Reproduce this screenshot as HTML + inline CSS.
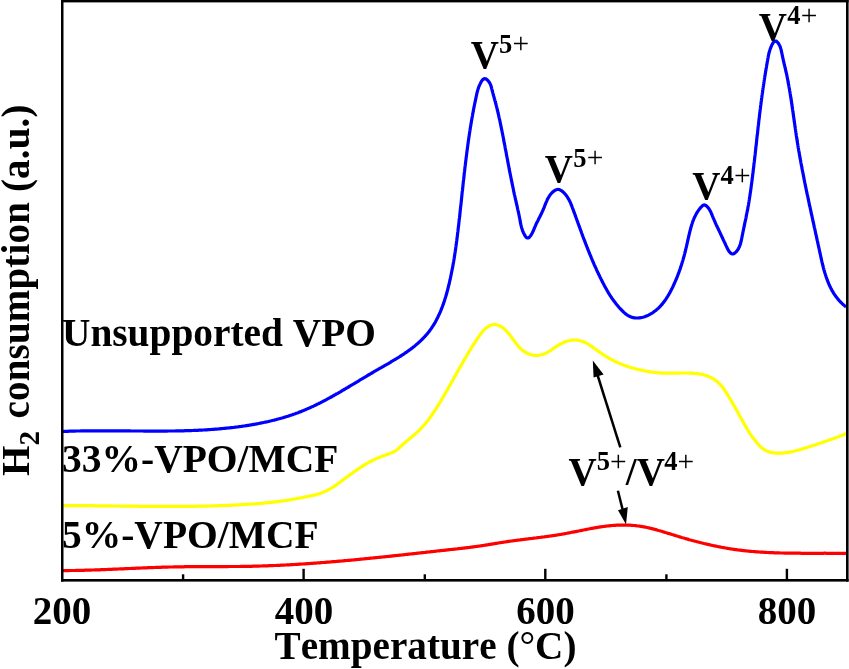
<!DOCTYPE html>
<html><head><meta charset="utf-8"><title>H2-TPR</title>
<style>
html,body{margin:0;padding:0;background:#fff;overflow:hidden}
svg{display:block}
text{font-family:"Liberation Serif",serif;font-weight:bold;fill:#000;font-size:39px;font-kerning:none}
.b{font-size:29px}
.p{font-size:29.5px;font-weight:normal}
.s{font-size:26.5px}
</style></head><body>
<svg width="849" height="669" viewBox="0 0 849 669">
<rect width="849" height="669" fill="#fff"/>
<!-- curves -->
<g fill="none" stroke-width="3.2" stroke-linejoin="round" stroke-linecap="butt">
<path stroke="#0000ff" d="M62.0,431.5 L63.0,431.5 L64.0,431.4 L65.0,431.4 L66.0,431.4 L67.0,431.3 L68.0,431.3 L69.0,431.2 L70.0,431.2 L71.0,431.2 L72.0,431.2 L73.0,431.1 L74.0,431.1 L75.0,431.1 L76.0,431.0 L77.0,431.0 L78.0,431.0 L79.0,431.0 L80.0,431.0 L81.0,430.9 L82.0,430.9 L83.0,430.9 L84.0,430.9 L85.0,430.9 L86.0,430.9 L87.0,430.9 L88.0,430.8 L89.0,430.8 L90.0,430.8 L91.0,430.8 L92.0,430.8 L93.0,430.8 L94.0,430.8 L95.0,430.8 L96.0,430.8 L97.0,430.8 L98.0,430.8 L99.0,430.8 L100.0,430.8 L101.0,430.8 L102.0,430.8 L103.0,430.8 L104.0,430.8 L105.0,430.8 L106.0,430.8 L107.0,430.8 L108.0,430.8 L109.0,430.8 L110.0,430.8 L111.0,430.8 L112.0,430.8 L113.0,430.8 L114.0,430.8 L115.0,430.8 L116.0,430.8 L117.0,430.8 L118.0,430.8 L119.0,430.9 L120.0,430.9 L121.0,430.9 L122.0,430.9 L123.0,430.9 L124.0,430.9 L125.0,430.9 L126.0,430.9 L127.0,430.9 L128.0,430.9 L129.0,430.9 L130.0,430.9 L131.0,431.0 L132.0,431.0 L133.0,431.0 L134.0,431.0 L135.0,431.0 L136.0,431.0 L137.0,431.0 L138.0,431.0 L139.0,431.0 L140.0,431.0 L141.0,431.0 L142.0,431.0 L143.0,431.0 L144.0,431.1 L145.0,431.1 L146.0,431.1 L147.0,431.1 L148.0,431.1 L149.0,431.1 L150.0,431.1 L151.0,431.1 L152.0,431.1 L153.0,431.1 L154.0,431.1 L155.0,431.1 L156.0,431.1 L157.0,431.1 L158.0,431.1 L159.0,431.1 L160.0,431.1 L161.0,431.1 L162.0,431.1 L163.0,431.1 L164.0,431.1 L165.0,431.1 L166.0,431.1 L167.0,431.1 L168.0,431.0 L169.0,431.0 L170.0,431.0 L171.0,431.0 L172.0,431.0 L173.0,431.0 L174.0,431.0 L175.0,431.0 L176.0,430.9 L177.0,430.9 L178.0,430.9 L179.0,430.9 L180.0,430.9 L181.0,430.8 L182.0,430.8 L183.0,430.8 L184.0,430.8 L185.0,430.7 L186.0,430.7 L187.0,430.7 L188.0,430.7 L189.0,430.6 L190.0,430.6 L191.0,430.6 L192.0,430.5 L193.0,430.5 L194.0,430.4 L195.0,430.4 L196.0,430.4 L197.0,430.3 L198.0,430.3 L199.0,430.2 L200.0,430.2 L201.0,430.1 L202.0,430.1 L203.0,430.0 L204.0,430.0 L205.0,429.9 L206.0,429.8 L207.0,429.8 L208.0,429.7 L209.0,429.6 L210.0,429.6 L211.0,429.5 L212.0,429.4 L213.0,429.4 L213.9,429.3 L214.9,429.2 L215.9,429.1 L216.9,429.1 L217.9,429.0 L218.9,428.9 L219.9,428.8 L220.9,428.7 L221.9,428.6 L222.9,428.5 L223.9,428.4 L224.9,428.3 L225.9,428.2 L226.9,428.1 L227.9,428.0 L228.9,427.9 L229.9,427.8 L230.9,427.7 L231.9,427.6 L232.9,427.5 L233.9,427.4 L234.9,427.2 L235.9,427.1 L236.9,427.0 L237.8,426.9 L238.8,426.7 L239.8,426.6 L240.8,426.5 L241.8,426.3 L242.8,426.2 L243.8,426.0 L244.8,425.9 L245.8,425.7 L246.8,425.6 L247.8,425.4 L248.8,425.3 L249.8,425.1 L250.8,424.9 L251.7,424.8 L252.7,424.6 L253.7,424.4 L254.7,424.3 L255.7,424.1 L256.7,423.9 L257.7,423.7 L258.7,423.5 L259.7,423.3 L260.6,423.1 L261.6,422.9 L262.6,422.7 L263.6,422.5 L264.6,422.3 L265.6,422.1 L266.5,421.9 L267.5,421.7 L268.5,421.5 L269.5,421.2 L270.4,421.0 L271.4,420.8 L272.4,420.5 L273.4,420.3 L274.3,420.1 L275.3,419.8 L276.3,419.6 L277.2,419.3 L278.2,419.0 L279.2,418.8 L280.1,418.5 L281.1,418.2 L282.0,418.0 L283.0,417.7 L284.0,417.4 L284.9,417.1 L285.9,416.8 L286.8,416.5 L287.8,416.2 L288.7,415.9 L289.7,415.6 L290.6,415.3 L291.5,415.0 L292.5,414.7 L293.4,414.3 L294.4,414.0 L295.3,413.7 L296.2,413.3 L297.2,413.0 L298.1,412.7 L299.0,412.3 L299.9,411.9 L300.9,411.6 L301.8,411.2 L302.7,410.8 L303.6,410.5 L304.5,410.1 L305.4,409.7 L306.4,409.3 L307.3,408.9 L308.2,408.5 L309.1,408.1 L310.0,407.7 L310.9,407.3 L311.8,406.9 L312.7,406.5 L313.6,406.1 L314.5,405.6 L315.4,405.2 L316.2,404.8 L317.1,404.3 L318.0,403.9 L318.9,403.5 L319.8,403.0 L320.7,402.6 L321.6,402.1 L322.4,401.7 L323.3,401.2 L324.2,400.8 L325.1,400.3 L326.0,399.8 L326.8,399.4 L327.7,398.9 L328.6,398.4 L329.5,397.9 L330.3,397.5 L331.2,397.0 L332.1,396.5 L332.9,396.0 L333.8,395.5 L334.7,395.0 L335.5,394.5 L336.4,394.0 L337.3,393.6 L338.1,393.1 L339.0,392.6 L339.9,392.1 L340.7,391.6 L341.6,391.0 L342.5,390.5 L343.3,390.0 L344.2,389.5 L345.1,389.0 L345.9,388.5 L346.8,388.0 L347.6,387.5 L348.5,387.0 L349.4,386.5 L350.2,385.9 L351.1,385.4 L352.0,384.9 L352.8,384.4 L353.7,383.9 L354.5,383.4 L355.4,382.8 L356.3,382.3 L357.1,381.8 L358.0,381.3 L358.9,380.8 L359.7,380.2 L360.6,379.7 L361.5,379.2 L362.3,378.7 L363.2,378.1 L364.1,377.6 L364.9,377.1 L365.8,376.6 L366.7,376.1 L367.5,375.5 L368.4,375.0 L369.3,374.5 L370.2,374.0 L371.0,373.5 L371.9,373.0 L372.8,372.5 L373.7,371.9 L374.5,371.4 L375.4,370.9 L376.3,370.4 L377.2,369.9 L378.1,369.4 L378.9,368.9 L379.8,368.4 L380.7,367.9 L381.6,367.4 L382.5,366.8 L383.4,366.3 L384.2,365.8 L385.1,365.3 L386.0,364.8 L386.9,364.3 L387.8,363.8 L388.7,363.3 L389.5,362.8 L390.4,362.3 L391.3,361.7 L392.2,361.2 L393.0,360.7 L393.9,360.2 L394.8,359.7 L395.6,359.1 L396.5,358.6 L397.3,358.1 L398.2,357.6 L399.1,357.0 L399.9,356.5 L400.8,356.0 L401.6,355.4 L402.4,354.9 L403.3,354.3 L404.1,353.8 L404.9,353.2 L405.8,352.6 L406.6,352.1 L407.4,351.5 L408.2,350.9 L409.0,350.4 L409.8,349.8 L410.6,349.2 L411.4,348.6 L412.2,348.0 L412.9,347.4 L413.7,346.8 L414.5,346.2 L415.2,345.6 L416.0,344.9 L416.7,344.3 L417.5,343.7 L418.2,343.0 L418.9,342.4 L419.7,341.7 L420.4,341.0 L421.1,340.4 L421.8,339.7 L422.5,339.0 L423.1,338.3 L423.8,337.6 L424.5,336.9 L425.1,336.2 L425.8,335.5 L426.4,334.8 L427.0,334.0 L427.7,333.3 L428.3,332.5 L428.9,331.8 L429.5,331.0 L430.0,330.2 L430.6,329.4 L431.2,328.6 L431.7,327.8 L432.3,327.0 L432.8,326.2 L433.3,325.4 L433.9,324.5 L434.4,323.7 L434.9,322.8 L435.4,322.0 L435.8,321.1 L436.3,320.2 L436.8,319.3 L437.2,318.4 L437.7,317.6 L438.1,316.6 L438.5,315.7 L439.0,314.8 L439.4,313.9 L439.8,313.0 L440.2,312.1 L440.6,311.1 L441.0,310.2 L441.4,309.2 L441.7,308.3 L442.1,307.3 L442.5,306.4 L442.8,305.4 L443.2,304.5 L443.5,303.5 L443.8,302.5 L444.2,301.6 L444.5,300.6 L444.8,299.6 L445.1,298.6 L445.4,297.6 L445.7,296.7 L446.0,295.7 L446.3,294.7 L446.6,293.7 L446.9,292.7 L447.1,291.7 L447.4,290.7 L447.7,289.7 L447.9,288.7 L448.2,287.7 L448.4,286.7 L448.7,285.7 L448.9,284.7 L449.2,283.7 L449.4,282.7 L449.6,281.7 L449.8,280.7 L450.1,279.7 L450.3,278.7 L450.5,277.7 L450.7,276.7 L450.9,275.8 L451.1,274.8 L451.3,273.8 L451.5,272.8 L451.7,271.8 L451.9,270.8 L452.1,269.8 L452.3,268.8 L452.5,267.9 L452.7,266.9 L452.9,265.9 L453.0,264.9 L453.2,263.9 L453.4,262.9 L453.6,262.0 L453.7,261.0 L453.9,260.0 L454.1,259.0 L454.2,258.0 L454.4,257.1 L454.5,256.1 L454.7,255.1 L454.8,254.1 L455.0,253.2 L455.1,252.2 L455.3,251.2 L455.4,250.2 L455.6,249.3 L455.7,248.3 L455.8,247.3 L456.0,246.3 L456.1,245.4 L456.2,244.4 L456.4,243.4 L456.5,242.4 L456.6,241.5 L456.8,240.5 L456.9,239.5 L457.0,238.5 L457.1,237.6 L457.3,236.6 L457.4,235.6 L457.5,234.6 L457.6,233.6 L457.7,232.7 L457.9,231.7 L458.0,230.7 L458.1,229.7 L458.2,228.8 L458.3,227.8 L458.4,226.8 L458.6,225.8 L458.7,224.8 L458.8,223.9 L458.9,222.9 L459.0,221.9 L459.1,220.9 L459.2,219.9 L459.3,218.9 L459.5,218.0 L459.6,217.0 L459.7,216.0 L459.8,215.0 L459.9,214.0 L460.0,213.0 L460.1,212.0 L460.2,211.0 L460.3,210.1 L460.4,209.1 L460.5,208.1 L460.6,207.1 L460.7,206.1 L460.9,205.1 L461.0,204.1 L461.1,203.1 L461.2,202.1 L461.3,201.1 L461.4,200.1 L461.5,199.2 L461.6,198.2 L461.7,197.2 L461.8,196.2 L461.9,195.2 L462.0,194.2 L462.1,193.2 L462.2,192.2 L462.3,191.2 L462.5,190.2 L462.6,189.2 L462.7,188.2 L462.8,187.2 L462.9,186.2 L463.0,185.2 L463.1,184.2 L463.2,183.2 L463.3,182.2 L463.4,181.2 L463.5,180.2 L463.7,179.2 L463.8,178.2 L463.9,177.2 L464.0,176.2 L464.1,175.2 L464.2,174.2 L464.3,173.2 L464.4,172.2 L464.6,171.2 L464.7,170.2 L464.8,169.2 L464.9,168.2 L465.0,167.2 L465.1,166.2 L465.3,165.2 L465.4,164.2 L465.5,163.3 L465.6,162.3 L465.7,161.3 L465.9,160.3 L466.0,159.3 L466.1,158.3 L466.2,157.3 L466.4,156.3 L466.5,155.3 L466.6,154.3 L466.7,153.3 L466.9,152.3 L467.0,151.3 L467.1,150.3 L467.3,149.3 L467.4,148.3 L467.5,147.3 L467.7,146.3 L467.8,145.3 L467.9,144.3 L468.1,143.3 L468.2,142.3 L468.3,141.3 L468.5,140.3 L468.6,139.3 L468.8,138.3 L468.9,137.3 L469.1,136.3 L469.2,135.3 L469.4,134.3 L469.5,133.3 L469.7,132.3 L469.8,131.3 L470.0,130.3 L470.1,129.4 L470.3,128.4 L470.4,127.4 L470.6,126.4 L470.8,125.4 L470.9,124.4 L471.1,123.4 L471.3,122.4 L471.4,121.4 L471.6,120.4 L471.8,119.4 L471.9,118.5 L472.1,117.5 L472.3,116.5 L472.5,115.5 L472.6,114.5 L472.8,113.6 L473.0,112.6 L473.2,111.6 L473.4,110.6 L473.5,109.6 L473.7,108.7 L473.9,107.7 L474.1,106.7 L474.3,105.8 L474.5,104.8 L474.7,103.8 L474.9,102.9 L475.1,101.9 L475.3,101.0 L475.5,100.0 L475.7,99.1 L475.9,98.1 L476.1,97.2 L476.3,96.2 L476.5,95.3 L476.7,94.3 L476.9,93.4 L477.1,92.5 L477.4,91.5 L477.6,90.6 L477.9,89.6 L478.2,88.6 L478.6,87.6 L478.9,86.6 L479.3,85.6 L479.8,84.6 L480.3,83.6 L480.8,82.5 L481.4,81.5 L482.0,80.6 L482.6,79.8 L483.3,79.2 L484.1,78.8 L484.8,78.7 L485.6,78.8 L486.4,79.2 L487.2,79.8 L487.9,80.6 L488.7,81.5 L489.3,82.4 L489.9,83.4 L490.4,84.4 L490.8,85.4 L491.1,86.3 L491.3,87.3 L491.6,88.2 L491.8,89.1 L492.1,90.1 L492.3,91.0 L492.6,92.0 L492.8,92.9 L493.1,93.9 L493.3,94.8 L493.6,95.8 L493.9,96.7 L494.1,97.7 L494.4,98.7 L494.7,99.6 L494.9,100.6 L495.2,101.6 L495.5,102.5 L495.7,103.5 L496.0,104.5 L496.2,105.4 L496.5,106.4 L496.7,107.4 L497.0,108.4 L497.2,109.3 L497.4,110.3 L497.7,111.3 L497.9,112.2 L498.1,113.2 L498.4,114.2 L498.6,115.2 L498.8,116.1 L499.0,117.1 L499.2,118.1 L499.5,119.1 L499.7,120.0 L499.9,121.0 L500.1,122.0 L500.3,123.0 L500.5,124.0 L500.7,124.9 L500.9,125.9 L501.1,126.9 L501.3,127.9 L501.5,128.8 L501.7,129.8 L501.9,130.8 L502.1,131.8 L502.3,132.8 L502.5,133.7 L502.7,134.7 L502.9,135.7 L503.1,136.7 L503.3,137.7 L503.5,138.6 L503.6,139.6 L503.8,140.6 L504.0,141.6 L504.2,142.6 L504.4,143.6 L504.6,144.5 L504.8,145.5 L505.0,146.5 L505.1,147.5 L505.3,148.5 L505.5,149.5 L505.7,150.4 L505.9,151.4 L506.1,152.4 L506.3,153.4 L506.4,154.4 L506.6,155.4 L506.8,156.3 L507.0,157.3 L507.2,158.3 L507.4,159.3 L507.6,160.3 L507.7,161.3 L507.9,162.3 L508.1,163.2 L508.3,164.2 L508.5,165.2 L508.7,166.2 L508.9,167.2 L509.1,168.2 L509.2,169.1 L509.4,170.1 L509.6,171.1 L509.8,172.1 L510.0,173.1 L510.2,174.0 L510.4,175.0 L510.6,176.0 L510.8,177.0 L511.0,178.0 L511.2,179.0 L511.4,179.9 L511.6,180.9 L511.8,181.9 L512.0,182.9 L512.2,183.9 L512.4,184.8 L512.6,185.8 L512.8,186.8 L513.0,187.8 L513.2,188.7 L513.4,189.7 L513.6,190.7 L513.8,191.7 L514.0,192.6 L514.2,193.6 L514.4,194.6 L514.7,195.6 L514.9,196.5 L515.1,197.5 L515.3,198.5 L515.5,199.5 L515.8,200.4 L516.0,201.4 L516.2,202.4 L516.4,203.3 L516.6,204.3 L516.9,205.3 L517.1,206.2 L517.3,207.2 L517.5,208.2 L517.7,209.2 L517.9,210.1 L518.2,211.1 L518.4,212.1 L518.6,213.1 L518.8,214.0 L519.0,215.0 L519.2,216.0 L519.4,217.0 L519.6,218.0 L519.8,219.0 L520.0,220.0 L520.1,220.9 L520.3,221.9 L520.5,222.9 L520.7,223.9 L520.9,224.9 L521.2,225.9 L521.4,226.9 L521.7,227.9 L522.0,228.8 L522.3,229.8 L522.6,230.8 L523.0,231.7 L523.4,232.7 L523.9,233.6 L524.4,234.6 L524.9,235.5 L525.5,236.4 L526.1,237.2 L526.8,237.8 L527.5,238.0 L528.3,237.9 L529.0,237.5 L529.7,236.8 L530.4,236.0 L531.1,235.1 L531.6,234.1 L532.2,233.2 L532.6,232.3 L533.1,231.3 L533.5,230.3 L533.9,229.3 L534.3,228.4 L534.7,227.4 L535.1,226.5 L535.5,225.6 L535.9,224.6 L536.3,223.7 L536.8,222.8 L537.2,221.9 L537.7,221.0 L538.1,220.2 L538.5,219.3 L539.0,218.4 L539.4,217.5 L539.9,216.7 L540.3,215.8 L540.7,214.9 L541.2,214.1 L541.6,213.2 L542.0,212.3 L542.4,211.4 L542.8,210.5 L543.2,209.6 L543.6,208.7 L544.0,207.8 L544.4,206.9 L544.7,205.9 L545.1,205.0 L545.4,204.1 L545.8,203.1 L546.2,202.2 L546.6,201.3 L547.0,200.3 L547.4,199.4 L547.9,198.5 L548.4,197.6 L548.9,196.8 L549.4,195.9 L550.0,195.1 L550.6,194.3 L551.3,193.5 L552.0,192.7 L552.8,192.0 L553.6,191.3 L554.5,190.7 L555.4,190.1 L556.3,189.7 L557.2,189.5 L558.1,189.4 L559.0,189.5 L559.9,189.8 L560.8,190.3 L561.7,190.8 L562.5,191.5 L563.3,192.2 L564.1,192.9 L564.8,193.7 L565.5,194.5 L566.1,195.3 L566.7,196.1 L567.3,196.9 L567.8,197.8 L568.3,198.6 L568.8,199.5 L569.3,200.4 L569.7,201.3 L570.2,202.2 L570.6,203.1 L571.0,204.1 L571.3,205.0 L571.7,205.9 L572.1,206.9 L572.4,207.8 L572.8,208.7 L573.1,209.7 L573.5,210.6 L573.8,211.6 L574.2,212.5 L574.5,213.4 L574.9,214.4 L575.2,215.3 L575.5,216.2 L575.9,217.2 L576.2,218.1 L576.6,219.0 L576.9,220.0 L577.2,220.9 L577.6,221.8 L577.9,222.8 L578.2,223.7 L578.6,224.6 L578.9,225.6 L579.3,226.5 L579.6,227.4 L579.9,228.4 L580.3,229.3 L580.6,230.2 L581.0,231.2 L581.3,232.1 L581.6,233.0 L582.0,234.0 L582.3,234.9 L582.7,235.9 L583.0,236.8 L583.4,237.7 L583.7,238.7 L584.1,239.6 L584.5,240.5 L584.8,241.5 L585.2,242.4 L585.5,243.4 L585.9,244.3 L586.3,245.2 L586.6,246.2 L587.0,247.1 L587.4,248.0 L587.7,249.0 L588.1,249.9 L588.5,250.8 L588.9,251.8 L589.2,252.7 L589.6,253.7 L590.0,254.6 L590.4,255.5 L590.8,256.4 L591.2,257.4 L591.5,258.3 L591.9,259.2 L592.3,260.2 L592.7,261.1 L593.1,262.0 L593.5,262.9 L593.9,263.8 L594.3,264.8 L594.7,265.7 L595.1,266.6 L595.6,267.5 L596.0,268.4 L596.4,269.3 L596.8,270.3 L597.2,271.2 L597.6,272.1 L598.1,273.0 L598.5,273.9 L598.9,274.8 L599.4,275.7 L599.8,276.6 L600.2,277.5 L600.7,278.3 L601.1,279.2 L601.6,280.1 L602.0,281.0 L602.4,281.9 L602.9,282.8 L603.4,283.6 L603.8,284.5 L604.3,285.4 L604.7,286.2 L605.2,287.1 L605.7,288.0 L606.2,288.8 L606.6,289.7 L607.1,290.5 L607.6,291.4 L608.1,292.2 L608.6,293.1 L609.1,293.9 L609.7,294.7 L610.2,295.6 L610.7,296.4 L611.3,297.2 L611.8,298.1 L612.4,298.9 L613.0,299.7 L613.6,300.5 L614.1,301.3 L614.8,302.1 L615.4,302.9 L616.0,303.7 L616.6,304.5 L617.3,305.3 L618.0,306.1 L618.6,306.9 L619.3,307.7 L620.0,308.5 L620.7,309.2 L621.5,310.0 L622.2,310.7 L623.0,311.5 L623.7,312.2 L624.5,312.9 L625.3,313.6 L626.1,314.2 L627.0,314.8 L627.8,315.3 L628.7,315.8 L629.5,316.3 L630.4,316.7 L631.3,317.1 L632.2,317.4 L633.2,317.6 L634.1,317.8 L635.0,317.9 L636.0,318.0 L637.0,318.0 L637.9,318.0 L638.9,317.9 L639.9,317.8 L640.8,317.7 L641.8,317.5 L642.8,317.3 L643.8,317.0 L644.7,316.7 L645.7,316.3 L646.6,315.9 L647.6,315.5 L648.5,315.1 L649.4,314.6 L650.3,314.1 L651.2,313.6 L652.1,313.1 L653.0,312.5 L653.8,311.9 L654.6,311.3 L655.4,310.7 L656.2,310.1 L657.0,309.4 L657.7,308.8 L658.5,308.1 L659.2,307.4 L659.9,306.7 L660.6,305.9 L661.2,305.2 L661.9,304.5 L662.5,303.7 L663.1,302.9 L663.8,302.1 L664.4,301.3 L664.9,300.5 L665.5,299.7 L666.1,298.9 L666.6,298.0 L667.1,297.2 L667.7,296.4 L668.2,295.5 L668.7,294.6 L669.2,293.8 L669.7,292.9 L670.2,292.0 L670.6,291.1 L671.1,290.3 L671.5,289.4 L672.0,288.5 L672.4,287.6 L672.9,286.7 L673.3,285.8 L673.7,284.9 L674.1,284.0 L674.5,283.1 L674.9,282.2 L675.3,281.3 L675.7,280.4 L676.1,279.5 L676.5,278.6 L676.9,277.7 L677.2,276.8 L677.6,275.9 L677.9,274.9 L678.3,274.0 L678.6,273.1 L679.0,272.2 L679.3,271.2 L679.6,270.3 L680.0,269.4 L680.3,268.5 L680.6,267.5 L680.9,266.6 L681.2,265.6 L681.5,264.7 L681.8,263.7 L682.1,262.8 L682.4,261.8 L682.7,260.9 L683.0,259.9 L683.2,259.0 L683.5,258.0 L683.8,257.0 L684.1,256.1 L684.3,255.1 L684.6,254.1 L684.8,253.2 L685.1,252.2 L685.3,251.2 L685.6,250.2 L685.8,249.2 L686.0,248.2 L686.3,247.3 L686.5,246.3 L686.7,245.3 L687.0,244.3 L687.2,243.3 L687.4,242.3 L687.6,241.2 L687.9,240.2 L688.1,239.2 L688.3,238.2 L688.5,237.2 L688.8,236.2 L689.0,235.2 L689.2,234.2 L689.5,233.2 L689.7,232.2 L689.9,231.2 L690.2,230.2 L690.5,229.2 L690.7,228.2 L691.0,227.2 L691.3,226.2 L691.6,225.2 L691.9,224.3 L692.2,223.3 L692.5,222.4 L692.8,221.4 L693.2,220.5 L693.6,219.6 L693.9,218.7 L694.3,217.8 L694.7,216.9 L695.2,216.0 L695.6,215.1 L696.1,214.2 L696.5,213.4 L697.0,212.6 L697.6,211.7 L698.1,210.9 L698.6,210.2 L699.2,209.4 L699.8,208.6 L700.4,207.9 L701.1,207.2 L701.8,206.4 L702.5,205.8 L703.2,205.2 L704.0,204.9 L704.8,205.0 L705.7,205.4 L706.5,206.0 L707.3,206.7 L708.0,207.6 L708.7,208.4 L709.3,209.3 L709.8,210.2 L710.3,211.1 L710.8,212.0 L711.2,213.0 L711.6,214.0 L712.0,214.9 L712.4,215.9 L712.8,216.8 L713.2,217.8 L713.6,218.7 L714.0,219.7 L714.4,220.6 L714.8,221.5 L715.2,222.4 L715.6,223.4 L716.0,224.3 L716.4,225.2 L716.9,226.1 L717.3,227.0 L717.7,227.8 L718.1,228.7 L718.5,229.6 L719.0,230.5 L719.4,231.4 L719.8,232.2 L720.2,233.1 L720.6,234.0 L721.0,234.8 L721.4,235.7 L721.8,236.5 L722.2,237.4 L722.6,238.3 L723.0,239.1 L723.4,240.0 L723.8,240.8 L724.2,241.7 L724.7,242.6 L725.1,243.5 L725.5,244.5 L725.9,245.4 L726.4,246.4 L726.9,247.4 L727.3,248.4 L727.9,249.4 L728.4,250.4 L729.0,251.3 L729.7,252.2 L730.4,252.9 L731.2,253.5 L732.0,253.9 L732.8,254.0 L733.7,253.7 L734.5,253.3 L735.3,252.6 L736.1,251.9 L736.8,251.1 L737.4,250.3 L738.0,249.5 L738.5,248.6 L738.9,247.7 L739.4,246.8 L739.7,245.9 L740.1,244.9 L740.4,244.0 L740.7,243.0 L740.9,242.0 L741.2,241.0 L741.4,240.0 L741.6,239.0 L741.8,238.0 L742.0,237.0 L742.2,236.0 L742.4,235.0 L742.6,234.0 L742.8,233.0 L743.0,232.0 L743.2,231.0 L743.4,230.0 L743.6,229.0 L743.8,228.0 L744.0,227.1 L744.2,226.1 L744.4,225.1 L744.6,224.1 L744.8,223.2 L745.0,222.2 L745.2,221.2 L745.5,220.3 L745.7,219.3 L745.9,218.3 L746.1,217.3 L746.2,216.4 L746.4,215.4 L746.6,214.4 L746.8,213.5 L747.0,212.5 L747.2,211.5 L747.4,210.6 L747.6,209.6 L747.8,208.6 L747.9,207.6 L748.1,206.7 L748.3,205.7 L748.5,204.7 L748.6,203.7 L748.8,202.7 L749.0,201.7 L749.1,200.7 L749.3,199.7 L749.4,198.8 L749.6,197.8 L749.7,196.8 L749.9,195.8 L750.0,194.8 L750.2,193.8 L750.3,192.8 L750.5,191.8 L750.6,190.8 L750.8,189.8 L750.9,188.8 L751.0,187.8 L751.2,186.8 L751.3,185.8 L751.4,184.8 L751.6,183.8 L751.7,182.8 L751.8,181.8 L752.0,180.8 L752.1,179.8 L752.2,178.8 L752.3,177.8 L752.5,176.8 L752.6,175.8 L752.7,174.8 L752.8,173.9 L753.0,172.9 L753.1,171.9 L753.2,170.9 L753.3,169.9 L753.4,168.9 L753.6,167.9 L753.7,166.9 L753.8,165.9 L753.9,164.9 L754.0,163.9 L754.1,162.9 L754.3,162.0 L754.4,161.0 L754.5,160.0 L754.6,159.0 L754.7,158.0 L754.8,157.0 L754.9,156.0 L755.1,155.0 L755.2,154.0 L755.3,153.1 L755.4,152.1 L755.5,151.1 L755.6,150.1 L755.7,149.1 L755.8,148.1 L755.9,147.1 L756.0,146.1 L756.2,145.1 L756.3,144.2 L756.4,143.2 L756.5,142.2 L756.6,141.2 L756.7,140.2 L756.8,139.2 L756.9,138.2 L757.0,137.2 L757.1,136.2 L757.2,135.2 L757.4,134.3 L757.5,133.3 L757.6,132.3 L757.7,131.3 L757.8,130.3 L757.9,129.3 L758.0,128.3 L758.1,127.3 L758.2,126.3 L758.4,125.3 L758.5,124.4 L758.6,123.4 L758.7,122.4 L758.8,121.4 L758.9,120.4 L759.0,119.4 L759.2,118.4 L759.3,117.4 L759.4,116.4 L759.5,115.4 L759.6,114.4 L759.7,113.4 L759.9,112.4 L760.0,111.5 L760.1,110.5 L760.2,109.5 L760.4,108.5 L760.5,107.5 L760.6,106.5 L760.7,105.5 L760.9,104.5 L761.0,103.5 L761.1,102.5 L761.2,101.5 L761.4,100.5 L761.5,99.5 L761.6,98.5 L761.8,97.5 L761.9,96.5 L762.0,95.5 L762.2,94.5 L762.3,93.5 L762.5,92.5 L762.6,91.5 L762.7,90.5 L762.9,89.5 L763.0,88.5 L763.2,87.5 L763.3,86.5 L763.5,85.5 L763.6,84.5 L763.8,83.5 L763.9,82.5 L764.1,81.5 L764.2,80.5 L764.4,79.5 L764.5,78.5 L764.7,77.5 L764.8,76.5 L765.0,75.5 L765.2,74.6 L765.3,73.6 L765.5,72.6 L765.6,71.6 L765.8,70.6 L766.0,69.7 L766.1,68.7 L766.3,67.7 L766.5,66.7 L766.6,65.8 L766.8,64.8 L767.0,63.9 L767.1,62.9 L767.3,61.9 L767.5,61.0 L767.6,60.1 L767.8,59.1 L768.0,58.2 L768.2,57.2 L768.3,56.3 L768.5,55.4 L768.7,54.4 L768.9,53.5 L769.2,52.5 L769.4,51.5 L769.7,50.5 L770.1,49.5 L770.4,48.5 L770.8,47.5 L771.3,46.4 L771.7,45.3 L772.3,44.2 L772.8,43.2 L773.4,42.4 L774.1,41.7 L774.7,41.2 L775.4,41.0 L776.1,41.1 L776.8,41.6 L777.5,42.2 L778.1,43.0 L778.8,44.0 L779.3,45.0 L779.9,46.1 L780.3,47.1 L780.6,48.1 L780.9,49.1 L781.2,50.1 L781.4,51.1 L781.6,52.1 L781.8,53.0 L782.0,54.0 L782.2,54.9 L782.4,55.9 L782.6,56.8 L782.8,57.8 L783.0,58.8 L783.2,59.7 L783.4,60.7 L783.7,61.7 L783.9,62.6 L784.1,63.6 L784.3,64.5 L784.6,65.5 L784.8,66.5 L785.0,67.5 L785.3,68.4 L785.5,69.4 L785.7,70.4 L785.9,71.3 L786.1,72.3 L786.4,73.3 L786.6,74.3 L786.8,75.2 L787.0,76.2 L787.2,77.2 L787.4,78.2 L787.6,79.2 L787.8,80.1 L788.0,81.1 L788.1,82.1 L788.3,83.1 L788.5,84.1 L788.7,85.1 L788.9,86.0 L789.0,87.0 L789.2,88.0 L789.4,89.0 L789.6,90.0 L789.7,91.0 L789.9,92.0 L790.1,93.0 L790.2,94.0 L790.4,94.9 L790.5,95.9 L790.7,96.9 L790.9,97.9 L791.0,98.9 L791.2,99.9 L791.3,100.9 L791.5,101.9 L791.6,102.9 L791.8,103.9 L791.9,104.9 L792.1,105.9 L792.2,106.9 L792.3,107.9 L792.5,108.9 L792.6,109.8 L792.8,110.8 L792.9,111.8 L793.1,112.8 L793.2,113.8 L793.3,114.8 L793.5,115.8 L793.6,116.8 L793.8,117.8 L793.9,118.8 L794.0,119.8 L794.2,120.8 L794.3,121.8 L794.5,122.8 L794.6,123.8 L794.8,124.8 L794.9,125.8 L795.0,126.8 L795.2,127.8 L795.3,128.7 L795.5,129.7 L795.6,130.7 L795.8,131.7 L795.9,132.7 L796.1,133.7 L796.2,134.7 L796.3,135.7 L796.5,136.7 L796.7,137.7 L796.8,138.6 L797.0,139.6 L797.1,140.6 L797.3,141.6 L797.4,142.6 L797.6,143.6 L797.8,144.6 L797.9,145.5 L798.1,146.5 L798.2,147.5 L798.4,148.5 L798.6,149.5 L798.7,150.5 L798.9,151.4 L799.1,152.4 L799.3,153.4 L799.4,154.4 L799.6,155.4 L799.8,156.3 L799.9,157.3 L800.1,158.3 L800.3,159.3 L800.5,160.3 L800.7,161.2 L800.8,162.2 L801.0,163.2 L801.2,164.2 L801.4,165.1 L801.6,166.1 L801.8,167.1 L801.9,168.1 L802.1,169.0 L802.3,170.0 L802.5,171.0 L802.7,172.0 L802.9,172.9 L803.1,173.9 L803.3,174.9 L803.5,175.9 L803.7,176.8 L803.8,177.8 L804.0,178.8 L804.2,179.8 L804.4,180.7 L804.6,181.7 L804.8,182.7 L805.0,183.7 L805.2,184.6 L805.4,185.6 L805.6,186.6 L805.8,187.6 L806.0,188.5 L806.2,189.5 L806.4,190.5 L806.6,191.4 L806.8,192.4 L807.0,193.4 L807.2,194.4 L807.5,195.3 L807.7,196.3 L807.9,197.3 L808.1,198.3 L808.3,199.2 L808.5,200.2 L808.7,201.2 L808.9,202.2 L809.1,203.1 L809.3,204.1 L809.5,205.1 L809.7,206.1 L810.0,207.0 L810.2,208.0 L810.4,209.0 L810.6,210.0 L810.8,210.9 L811.0,211.9 L811.2,212.9 L811.4,213.9 L811.6,214.8 L811.9,215.8 L812.1,216.8 L812.3,217.8 L812.5,218.8 L812.7,219.7 L812.9,220.7 L813.1,221.7 L813.4,222.7 L813.6,223.6 L813.8,224.6 L814.0,225.6 L814.2,226.6 L814.4,227.6 L814.7,228.6 L814.9,229.5 L815.1,230.5 L815.3,231.5 L815.5,232.5 L815.7,233.5 L815.9,234.5 L816.2,235.4 L816.4,236.4 L816.6,237.4 L816.8,238.4 L817.0,239.4 L817.2,240.4 L817.5,241.4 L817.7,242.4 L817.9,243.4 L818.1,244.3 L818.3,245.3 L818.5,246.3 L818.7,247.3 L819.0,248.3 L819.2,249.3 L819.4,250.3 L819.6,251.3 L819.8,252.3 L820.0,253.3 L820.3,254.3 L820.5,255.3 L820.7,256.3 L820.9,257.3 L821.1,258.3 L821.4,259.3 L821.6,260.3 L821.8,261.3 L822.0,262.2 L822.3,263.2 L822.5,264.2 L822.8,265.2 L823.0,266.2 L823.3,267.2 L823.5,268.1 L823.8,269.1 L824.0,270.1 L824.3,271.1 L824.6,272.0 L824.9,273.0 L825.2,273.9 L825.5,274.9 L825.8,275.8 L826.1,276.8 L826.4,277.7 L826.8,278.7 L827.1,279.6 L827.4,280.5 L827.8,281.4 L828.2,282.3 L828.5,283.2 L828.9,284.1 L829.3,285.0 L829.7,285.9 L830.1,286.8 L830.6,287.7 L831.0,288.5 L831.5,289.4 L831.9,290.3 L832.4,291.1 L832.9,291.9 L833.4,292.8 L833.9,293.6 L834.4,294.4 L835.0,295.2 L835.5,296.0 L836.1,296.8 L836.7,297.5 L837.3,298.3 L837.9,299.1 L838.5,299.8 L839.2,300.6 L839.9,301.3 L840.5,302.0 L841.2,302.7 L841.9,303.4 L842.7,304.1 L843.4,304.7 L844.2,305.4 L845.0,306.1 L845.8,306.7 L846.0,306.8"/>
<path stroke="#ffff00" d="M62.0,505.6 L63.0,505.6 L64.0,505.6 L65.0,505.6 L66.0,505.6 L67.0,505.6 L68.0,505.6 L69.0,505.6 L70.0,505.6 L71.0,505.6 L72.0,505.6 L73.0,505.6 L74.0,505.6 L75.0,505.6 L76.0,505.6 L77.0,505.6 L78.0,505.6 L79.0,505.6 L80.0,505.6 L81.0,505.6 L82.0,505.7 L83.0,505.7 L84.0,505.7 L85.0,505.7 L86.0,505.7 L87.0,505.7 L88.0,505.7 L89.0,505.7 L90.0,505.7 L91.0,505.7 L92.0,505.7 L93.0,505.7 L94.0,505.7 L95.0,505.8 L96.0,505.8 L97.0,505.8 L98.0,505.8 L99.0,505.8 L100.0,505.8 L101.0,505.8 L102.0,505.8 L103.0,505.8 L104.0,505.9 L105.0,505.9 L106.0,505.9 L107.0,505.9 L108.0,505.9 L109.0,505.9 L110.0,505.9 L111.0,505.9 L112.0,505.9 L113.0,506.0 L114.0,506.0 L115.0,506.0 L116.0,506.0 L117.0,506.0 L118.0,506.0 L119.0,506.0 L120.0,506.0 L121.0,506.1 L122.0,506.1 L123.0,506.1 L124.0,506.1 L125.0,506.1 L126.0,506.1 L127.0,506.1 L128.0,506.1 L129.0,506.2 L130.0,506.2 L131.0,506.2 L132.0,506.2 L133.0,506.2 L134.0,506.2 L135.0,506.2 L136.0,506.2 L137.0,506.2 L138.0,506.3 L139.0,506.3 L140.0,506.3 L141.0,506.3 L142.0,506.3 L143.0,506.3 L144.0,506.3 L145.0,506.3 L146.0,506.3 L147.0,506.3 L148.0,506.3 L149.0,506.4 L150.0,506.4 L151.0,506.4 L152.0,506.4 L153.0,506.4 L154.0,506.4 L155.0,506.4 L156.0,506.4 L157.0,506.4 L158.0,506.4 L159.0,506.4 L160.0,506.4 L161.0,506.4 L162.0,506.4 L163.0,506.4 L164.0,506.4 L165.0,506.4 L166.0,506.4 L167.0,506.4 L168.0,506.4 L169.0,506.4 L170.0,506.4 L171.0,506.4 L172.0,506.4 L173.0,506.4 L174.0,506.4 L175.0,506.4 L176.0,506.4 L177.0,506.4 L178.0,506.4 L179.0,506.4 L180.0,506.4 L181.0,506.4 L182.0,506.4 L183.0,506.4 L184.0,506.4 L185.0,506.4 L186.0,506.4 L187.0,506.4 L188.0,506.4 L189.0,506.3 L190.0,506.3 L191.0,506.3 L192.0,506.3 L193.0,506.3 L194.0,506.3 L195.0,506.3 L196.0,506.3 L197.0,506.2 L198.0,506.2 L199.0,506.2 L200.0,506.2 L201.0,506.2 L202.0,506.1 L203.0,506.1 L204.0,506.1 L205.0,506.1 L206.0,506.1 L207.0,506.0 L208.0,506.0 L209.0,506.0 L210.0,506.0 L211.0,505.9 L212.0,505.9 L213.0,505.9 L214.0,505.9 L215.0,505.8 L216.0,505.8 L217.0,505.8 L218.0,505.7 L219.0,505.7 L220.0,505.7 L221.0,505.6 L222.0,505.6 L223.0,505.6 L224.0,505.5 L225.0,505.5 L226.0,505.4 L227.0,505.4 L228.0,505.3 L229.0,505.3 L230.0,505.3 L231.0,505.2 L232.0,505.2 L233.0,505.1 L234.0,505.1 L235.0,505.0 L236.0,505.0 L237.0,504.9 L238.0,504.9 L239.0,504.8 L240.0,504.8 L241.0,504.7 L242.0,504.7 L243.0,504.6 L244.0,504.5 L245.0,504.5 L246.0,504.4 L247.0,504.4 L248.0,504.3 L249.0,504.2 L250.0,504.2 L251.0,504.1 L252.0,504.0 L253.0,504.0 L253.9,503.9 L254.9,503.8 L255.9,503.7 L256.9,503.7 L257.9,503.6 L258.9,503.5 L259.9,503.4 L260.9,503.3 L261.9,503.3 L262.9,503.2 L263.9,503.1 L264.9,503.0 L265.9,502.9 L266.9,502.8 L267.9,502.7 L268.9,502.6 L269.9,502.5 L270.9,502.4 L271.9,502.3 L272.9,502.2 L273.9,502.1 L274.9,501.9 L275.9,501.8 L276.9,501.7 L277.8,501.6 L278.8,501.5 L279.8,501.3 L280.8,501.2 L281.8,501.1 L282.8,500.9 L283.8,500.8 L284.8,500.6 L285.8,500.5 L286.7,500.3 L287.7,500.2 L288.7,500.0 L289.7,499.8 L290.7,499.7 L291.7,499.5 L292.6,499.3 L293.6,499.2 L294.6,499.0 L295.6,498.8 L296.6,498.6 L297.6,498.4 L298.5,498.2 L299.5,498.0 L300.5,497.9 L301.5,497.7 L302.5,497.5 L303.5,497.3 L304.4,497.1 L305.4,496.9 L306.4,496.7 L307.4,496.5 L308.4,496.3 L309.4,496.1 L310.4,496.0 L311.4,495.7 L312.4,495.5 L313.3,495.3 L314.3,495.1 L315.3,494.9 L316.3,494.6 L317.2,494.3 L318.2,494.1 L319.1,493.8 L320.1,493.5 L321.0,493.1 L321.9,492.8 L322.9,492.4 L323.8,492.0 L324.7,491.6 L325.6,491.2 L326.5,490.8 L327.3,490.3 L328.2,489.9 L329.1,489.4 L330.0,488.9 L330.8,488.4 L331.7,487.9 L332.5,487.3 L333.4,486.8 L334.2,486.3 L335.0,485.7 L335.9,485.1 L336.7,484.6 L337.5,484.0 L338.3,483.4 L339.2,482.8 L340.0,482.2 L340.8,481.6 L341.6,481.0 L342.4,480.4 L343.2,479.8 L344.0,479.2 L344.8,478.6 L345.6,478.0 L346.4,477.4 L347.3,476.8 L348.1,476.2 L348.9,475.6 L349.7,475.0 L350.5,474.4 L351.3,473.8 L352.1,473.3 L352.9,472.7 L353.7,472.1 L354.5,471.5 L355.3,470.9 L356.2,470.4 L357.0,469.8 L357.8,469.2 L358.6,468.7 L359.4,468.1 L360.3,467.6 L361.1,467.0 L361.9,466.5 L362.8,466.0 L363.6,465.4 L364.5,464.9 L365.3,464.4 L366.2,463.9 L367.0,463.4 L367.9,462.9 L368.8,462.4 L369.6,461.9 L370.5,461.5 L371.4,461.0 L372.3,460.5 L373.2,460.1 L374.1,459.7 L375.0,459.2 L375.9,458.8 L376.8,458.4 L377.8,458.0 L378.7,457.6 L379.6,457.2 L380.6,456.9 L381.5,456.5 L382.5,456.1 L383.4,455.8 L384.4,455.4 L385.3,455.1 L386.3,454.8 L387.2,454.4 L388.2,454.1 L389.1,453.8 L390.1,453.4 L391.0,453.0 L391.9,452.7 L392.8,452.2 L393.7,451.8 L394.5,451.3 L395.4,450.8 L396.2,450.3 L397.0,449.7 L397.7,449.1 L398.5,448.4 L399.3,447.8 L400.0,447.1 L400.7,446.4 L401.5,445.8 L402.2,445.1 L403.0,444.4 L403.7,443.7 L404.5,443.1 L405.2,442.4 L406.0,441.8 L406.8,441.1 L407.5,440.5 L408.3,439.8 L409.1,439.2 L409.8,438.5 L410.6,437.9 L411.4,437.2 L412.1,436.6 L412.9,435.9 L413.7,435.3 L414.4,434.6 L415.2,434.0 L415.9,433.3 L416.7,432.6 L417.4,432.0 L418.1,431.3 L418.9,430.6 L419.6,429.9 L420.3,429.2 L421.0,428.5 L421.7,427.8 L422.3,427.0 L423.0,426.3 L423.7,425.6 L424.3,424.8 L425.0,424.0 L425.6,423.3 L426.2,422.5 L426.9,421.7 L427.5,421.0 L428.1,420.2 L428.7,419.4 L429.3,418.6 L429.9,417.8 L430.5,417.0 L431.1,416.2 L431.6,415.3 L432.2,414.5 L432.8,413.7 L433.3,412.9 L433.9,412.0 L434.4,411.2 L435.0,410.4 L435.5,409.5 L436.1,408.7 L436.6,407.8 L437.1,407.0 L437.7,406.1 L438.2,405.3 L438.7,404.4 L439.2,403.6 L439.8,402.7 L440.3,401.8 L440.8,401.0 L441.3,400.1 L441.8,399.3 L442.3,398.4 L442.8,397.5 L443.4,396.7 L443.9,395.8 L444.4,394.9 L444.9,394.1 L445.4,393.2 L445.9,392.3 L446.4,391.5 L446.9,390.6 L447.4,389.7 L447.9,388.8 L448.4,388.0 L448.8,387.1 L449.3,386.2 L449.8,385.4 L450.3,384.5 L450.8,383.6 L451.3,382.7 L451.8,381.9 L452.3,381.0 L452.8,380.1 L453.3,379.3 L453.8,378.4 L454.2,377.5 L454.7,376.6 L455.2,375.8 L455.7,374.9 L456.2,374.0 L456.7,373.1 L457.2,372.3 L457.7,371.4 L458.2,370.5 L458.6,369.7 L459.1,368.8 L459.6,367.9 L460.1,367.1 L460.6,366.2 L461.1,365.3 L461.6,364.5 L462.1,363.6 L462.6,362.7 L463.1,361.9 L463.6,361.0 L464.1,360.1 L464.6,359.3 L465.1,358.4 L465.6,357.6 L466.1,356.7 L466.6,355.8 L467.1,355.0 L467.6,354.1 L468.1,353.3 L468.6,352.4 L469.1,351.6 L469.7,350.7 L470.2,349.9 L470.7,349.0 L471.2,348.2 L471.7,347.3 L472.3,346.5 L472.8,345.6 L473.3,344.8 L473.9,344.0 L474.4,343.1 L474.9,342.3 L475.5,341.4 L476.0,340.6 L476.6,339.8 L477.2,338.9 L477.7,338.1 L478.3,337.3 L478.9,336.5 L479.5,335.6 L480.1,334.8 L480.7,334.0 L481.3,333.2 L481.9,332.4 L482.5,331.6 L483.2,330.8 L483.9,330.0 L484.6,329.3 L485.3,328.6 L486.1,328.0 L486.9,327.3 L487.7,326.8 L488.6,326.2 L489.5,325.8 L490.4,325.4 L491.4,325.0 L492.4,324.8 L493.4,324.6 L494.3,324.5 L495.3,324.5 L496.3,324.7 L497.3,324.9 L498.2,325.2 L499.2,325.6 L500.1,326.0 L501.0,326.6 L501.8,327.1 L502.7,327.7 L503.5,328.3 L504.3,328.9 L505.0,329.6 L505.7,330.3 L506.4,331.0 L507.1,331.7 L507.8,332.5 L508.5,333.3 L509.1,334.0 L509.7,334.8 L510.3,335.6 L510.9,336.4 L511.5,337.2 L512.1,338.1 L512.7,338.9 L513.3,339.7 L513.9,340.5 L514.5,341.3 L515.1,342.1 L515.7,343.0 L516.3,343.8 L516.9,344.5 L517.6,345.3 L518.2,346.1 L518.9,346.8 L519.6,347.6 L520.3,348.3 L521.0,349.0 L521.7,349.6 L522.5,350.3 L523.3,350.9 L524.1,351.5 L525.0,352.0 L525.8,352.5 L526.7,353.0 L527.6,353.5 L528.5,353.9 L529.5,354.2 L530.4,354.5 L531.4,354.8 L532.4,355.0 L533.4,355.2 L534.4,355.3 L535.4,355.4 L536.4,355.4 L537.4,355.4 L538.4,355.3 L539.4,355.2 L540.4,355.0 L541.4,354.8 L542.3,354.6 L543.3,354.3 L544.2,354.0 L545.2,353.6 L546.1,353.2 L547.0,352.7 L547.8,352.2 L548.7,351.7 L549.5,351.2 L550.4,350.6 L551.2,350.0 L552.0,349.5 L552.9,348.9 L553.7,348.3 L554.5,347.7 L555.4,347.1 L556.2,346.6 L557.0,346.0 L557.9,345.5 L558.7,345.0 L559.6,344.5 L560.5,344.0 L561.4,343.6 L562.3,343.1 L563.2,342.7 L564.1,342.3 L565.0,341.9 L566.0,341.6 L566.9,341.3 L567.9,341.0 L568.9,340.7 L569.9,340.5 L570.8,340.3 L571.8,340.2 L572.8,340.1 L573.8,340.0 L574.8,340.0 L575.8,340.0 L576.8,340.1 L577.8,340.3 L578.8,340.4 L579.8,340.7 L580.8,340.9 L581.8,341.2 L582.7,341.5 L583.6,341.9 L584.6,342.3 L585.5,342.7 L586.4,343.2 L587.2,343.7 L588.1,344.2 L589.0,344.7 L589.8,345.2 L590.6,345.8 L591.5,346.3 L592.3,346.9 L593.1,347.5 L593.9,348.1 L594.7,348.7 L595.6,349.3 L596.4,349.8 L597.2,350.4 L598.0,351.0 L598.8,351.6 L599.6,352.2 L600.5,352.7 L601.3,353.3 L602.1,353.9 L603.0,354.4 L603.8,355.0 L604.6,355.5 L605.5,356.1 L606.3,356.6 L607.2,357.1 L608.0,357.6 L608.9,358.2 L609.8,358.6 L610.6,359.1 L611.5,359.6 L612.4,360.1 L613.3,360.5 L614.2,361.0 L615.1,361.4 L616.0,361.8 L616.9,362.3 L617.8,362.7 L618.7,363.1 L619.6,363.5 L620.5,363.8 L621.5,364.2 L622.4,364.6 L623.3,364.9 L624.3,365.3 L625.2,365.6 L626.1,365.9 L627.1,366.3 L628.0,366.6 L629.0,366.9 L629.9,367.2 L630.9,367.5 L631.9,367.8 L632.8,368.0 L633.8,368.3 L634.8,368.6 L635.7,368.8 L636.7,369.1 L637.7,369.3 L638.6,369.5 L639.6,369.8 L640.6,370.0 L641.6,370.2 L642.6,370.4 L643.5,370.6 L644.5,370.8 L645.5,371.0 L646.5,371.2 L647.5,371.4 L648.5,371.5 L649.5,371.7 L650.4,371.9 L651.4,372.0 L652.4,372.1 L653.4,372.3 L654.4,372.4 L655.4,372.5 L656.4,372.6 L657.4,372.7 L658.4,372.8 L659.4,372.9 L660.4,373.0 L661.4,373.0 L662.4,373.1 L663.4,373.1 L664.4,373.2 L665.4,373.2 L666.4,373.2 L667.4,373.2 L668.4,373.2 L669.4,373.2 L670.4,373.2 L671.4,373.2 L672.4,373.2 L673.4,373.2 L674.4,373.2 L675.4,373.2 L676.4,373.1 L677.4,373.1 L678.4,373.1 L679.4,373.1 L680.4,373.0 L681.4,373.0 L682.4,373.0 L683.4,373.0 L684.4,373.0 L685.4,373.0 L686.4,373.0 L687.4,373.0 L688.4,373.0 L689.4,373.1 L690.4,373.1 L691.4,373.2 L692.4,373.2 L693.4,373.3 L694.4,373.4 L695.4,373.5 L696.4,373.6 L697.4,373.7 L698.4,373.8 L699.4,374.0 L700.3,374.1 L701.3,374.3 L702.3,374.5 L703.3,374.8 L704.3,375.0 L705.2,375.3 L706.2,375.6 L707.1,375.9 L708.1,376.3 L709.0,376.7 L709.9,377.1 L710.8,377.5 L711.7,378.0 L712.6,378.4 L713.5,379.0 L714.3,379.5 L715.1,380.1 L715.9,380.7 L716.7,381.3 L717.5,381.9 L718.2,382.6 L719.0,383.3 L719.7,384.0 L720.3,384.7 L721.0,385.4 L721.7,386.2 L722.3,387.0 L722.9,387.8 L723.5,388.6 L724.1,389.4 L724.6,390.2 L725.2,391.0 L725.8,391.9 L726.3,392.7 L726.8,393.6 L727.4,394.4 L727.9,395.3 L728.4,396.1 L729.0,397.0 L729.5,397.8 L730.0,398.7 L730.5,399.6 L731.0,400.4 L731.5,401.3 L732.0,402.2 L732.5,403.0 L733.0,403.9 L733.5,404.8 L734.0,405.6 L734.5,406.5 L735.0,407.4 L735.5,408.3 L736.0,409.1 L736.5,410.0 L737.0,410.9 L737.5,411.8 L738.0,412.6 L738.4,413.5 L738.9,414.4 L739.4,415.3 L739.9,416.1 L740.4,417.0 L740.9,417.9 L741.3,418.8 L741.8,419.6 L742.3,420.5 L742.8,421.4 L743.3,422.2 L743.8,423.1 L744.2,424.0 L744.7,424.8 L745.2,425.7 L745.7,426.5 L746.2,427.4 L746.7,428.2 L747.2,429.1 L747.8,429.9 L748.3,430.8 L748.8,431.6 L749.3,432.5 L749.9,433.3 L750.4,434.1 L751.0,435.0 L751.6,435.8 L752.1,436.6 L752.7,437.4 L753.3,438.2 L753.9,439.0 L754.5,439.8 L755.2,440.6 L755.8,441.4 L756.5,442.2 L757.1,443.0 L757.8,443.8 L758.5,444.6 L759.2,445.3 L759.9,446.1 L760.7,446.8 L761.4,447.5 L762.2,448.1 L763.0,448.7 L763.8,449.3 L764.7,449.9 L765.5,450.4 L766.4,450.8 L767.3,451.2 L768.2,451.6 L769.1,451.9 L770.1,452.2 L771.0,452.4 L772.0,452.6 L773.0,452.8 L774.0,452.9 L775.0,453.0 L776.0,453.1 L777.0,453.2 L778.0,453.2 L779.0,453.2 L780.0,453.2 L781.0,453.2 L782.0,453.1 L783.0,453.0 L784.0,452.9 L785.0,452.8 L786.0,452.7 L787.0,452.6 L788.0,452.4 L789.0,452.3 L790.0,452.1 L790.9,451.9 L791.9,451.7 L792.9,451.5 L793.9,451.2 L794.8,451.0 L795.8,450.8 L796.8,450.5 L797.7,450.3 L798.7,450.0 L799.7,449.7 L800.6,449.4 L801.6,449.1 L802.5,448.9 L803.5,448.6 L804.5,448.3 L805.4,448.0 L806.4,447.7 L807.3,447.3 L808.3,447.0 L809.2,446.7 L810.2,446.4 L811.1,446.1 L812.1,445.8 L813.0,445.5 L814.0,445.2 L814.9,444.9 L815.9,444.6 L816.8,444.2 L817.8,443.9 L818.7,443.6 L819.7,443.3 L820.6,443.0 L821.6,442.7 L822.5,442.4 L823.5,442.0 L824.4,441.7 L825.4,441.4 L826.3,441.1 L827.2,440.7 L828.2,440.4 L829.1,440.1 L830.1,439.7 L831.0,439.4 L831.9,439.1 L832.9,438.7 L833.8,438.4 L834.8,438.1 L835.7,437.7 L836.6,437.4 L837.6,437.0 L838.5,436.7 L839.4,436.3 L840.4,436.0 L841.3,435.6 L842.2,435.2 L843.2,434.9 L844.1,434.5 L845.0,434.1 L846.0,433.7 L846.3,433.6"/>
<path stroke="#ff0000" d="M62.0,570.6 L63.0,570.6 L64.0,570.6 L65.0,570.6 L66.0,570.6 L67.0,570.6 L68.0,570.6 L69.0,570.6 L70.0,570.5 L71.0,570.5 L72.0,570.5 L73.0,570.5 L74.0,570.5 L75.0,570.5 L76.0,570.4 L77.0,570.4 L78.0,570.4 L79.0,570.4 L80.0,570.4 L81.0,570.3 L82.0,570.3 L83.0,570.3 L84.0,570.3 L85.0,570.2 L86.0,570.2 L87.0,570.2 L88.0,570.2 L89.0,570.1 L90.0,570.1 L91.0,570.1 L92.0,570.0 L93.0,570.0 L94.0,570.0 L95.0,569.9 L96.0,569.9 L97.0,569.9 L98.0,569.8 L99.0,569.8 L100.0,569.8 L101.0,569.7 L102.0,569.7 L103.0,569.6 L104.0,569.6 L105.0,569.6 L106.0,569.5 L107.0,569.5 L108.0,569.4 L109.0,569.4 L110.0,569.4 L111.0,569.3 L112.0,569.3 L113.0,569.2 L114.0,569.2 L115.0,569.2 L116.0,569.1 L117.0,569.1 L118.0,569.0 L119.0,569.0 L120.0,568.9 L121.0,568.9 L122.0,568.9 L123.0,568.8 L124.0,568.8 L125.0,568.7 L126.0,568.7 L127.0,568.6 L128.0,568.6 L129.0,568.5 L130.0,568.5 L131.0,568.5 L132.0,568.4 L133.0,568.4 L134.0,568.3 L135.0,568.3 L136.0,568.2 L137.0,568.2 L138.0,568.2 L139.0,568.1 L140.0,568.1 L141.0,568.0 L142.0,568.0 L143.0,567.9 L143.9,567.9 L144.9,567.9 L145.9,567.8 L146.9,567.8 L147.9,567.7 L148.9,567.7 L149.9,567.7 L150.9,567.6 L151.9,567.6 L152.9,567.6 L153.9,567.5 L154.9,567.5 L155.9,567.4 L156.9,567.4 L157.9,567.4 L158.9,567.3 L159.9,567.3 L160.9,567.3 L161.9,567.2 L162.9,567.2 L163.9,567.2 L164.9,567.2 L165.9,567.1 L166.9,567.1 L167.9,567.1 L168.9,567.0 L169.9,567.0 L170.9,567.0 L171.9,567.0 L172.9,567.0 L173.9,566.9 L174.9,566.9 L175.9,566.9 L176.9,566.9 L177.9,566.9 L178.9,566.8 L179.9,566.8 L180.9,566.8 L181.9,566.8 L182.9,566.8 L183.9,566.8 L184.9,566.7 L185.9,566.7 L186.9,566.7 L187.9,566.7 L188.9,566.7 L189.9,566.7 L190.9,566.7 L191.9,566.7 L192.9,566.7 L193.9,566.7 L194.9,566.7 L195.9,566.7 L196.9,566.6 L197.9,566.6 L198.9,566.6 L199.9,566.6 L200.9,566.6 L201.9,566.6 L202.9,566.6 L203.9,566.6 L204.9,566.6 L205.9,566.6 L206.9,566.6 L207.9,566.6 L208.9,566.6 L209.9,566.6 L210.9,566.6 L211.9,566.6 L212.9,566.6 L213.9,566.6 L214.9,566.6 L215.9,566.6 L216.9,566.6 L217.9,566.6 L218.9,566.6 L219.9,566.6 L220.9,566.6 L221.9,566.6 L222.9,566.6 L223.9,566.6 L224.9,566.6 L225.9,566.6 L226.9,566.6 L227.9,566.6 L228.9,566.5 L229.9,566.5 L230.9,566.5 L232.0,566.5 L233.0,566.5 L234.0,566.5 L235.0,566.5 L236.0,566.5 L237.0,566.5 L238.0,566.5 L239.0,566.5 L240.0,566.5 L241.0,566.4 L242.0,566.4 L243.0,566.4 L244.0,566.4 L245.0,566.4 L246.0,566.4 L247.0,566.4 L247.9,566.3 L248.9,566.3 L249.9,566.3 L250.9,566.3 L251.9,566.3 L252.9,566.2 L253.9,566.2 L254.9,566.2 L255.9,566.2 L256.9,566.1 L257.9,566.1 L258.9,566.1 L259.9,566.0 L260.9,566.0 L261.9,566.0 L262.9,565.9 L263.9,565.9 L264.9,565.9 L265.9,565.8 L266.9,565.8 L267.9,565.8 L268.9,565.7 L269.9,565.7 L270.9,565.7 L271.9,565.6 L272.9,565.6 L273.9,565.5 L274.9,565.5 L275.9,565.5 L276.9,565.4 L277.9,565.4 L278.9,565.3 L279.9,565.3 L280.9,565.2 L281.9,565.2 L282.9,565.1 L283.9,565.1 L284.9,565.0 L285.9,565.0 L286.9,564.9 L287.9,564.9 L288.9,564.8 L289.9,564.8 L290.9,564.7 L291.9,564.6 L292.9,564.6 L293.9,564.5 L294.9,564.5 L295.9,564.4 L296.9,564.4 L297.9,564.3 L298.9,564.2 L299.9,564.2 L300.9,564.1 L301.9,564.0 L302.9,564.0 L303.9,563.9 L304.9,563.8 L305.9,563.8 L306.9,563.7 L307.9,563.6 L308.9,563.6 L309.9,563.5 L310.8,563.4 L311.8,563.4 L312.8,563.3 L313.8,563.2 L314.8,563.2 L315.8,563.1 L316.8,563.0 L317.8,562.9 L318.8,562.9 L319.8,562.8 L320.8,562.7 L321.8,562.6 L322.8,562.5 L323.8,562.5 L324.8,562.4 L325.8,562.3 L326.8,562.2 L327.8,562.2 L328.8,562.1 L329.8,562.0 L330.8,561.9 L331.8,561.8 L332.8,561.7 L333.8,561.7 L334.8,561.6 L335.8,561.5 L336.8,561.4 L337.8,561.3 L338.8,561.2 L339.8,561.1 L340.7,561.1 L341.7,561.0 L342.7,560.9 L343.7,560.8 L344.7,560.7 L345.7,560.6 L346.7,560.5 L347.7,560.4 L348.7,560.3 L349.7,560.3 L350.7,560.2 L351.7,560.1 L352.7,560.0 L353.7,559.9 L354.7,559.8 L355.7,559.7 L356.7,559.6 L357.7,559.5 L358.7,559.4 L359.7,559.3 L360.7,559.2 L361.7,559.1 L362.7,559.0 L363.6,558.9 L364.6,558.8 L365.6,558.7 L366.6,558.6 L367.6,558.5 L368.6,558.4 L369.6,558.3 L370.6,558.2 L371.6,558.1 L372.6,558.0 L373.6,557.9 L374.6,557.8 L375.6,557.7 L376.6,557.6 L377.6,557.5 L378.6,557.4 L379.6,557.3 L380.6,557.2 L381.6,557.1 L382.6,557.0 L383.5,556.9 L384.5,556.8 L385.5,556.7 L386.5,556.6 L387.5,556.5 L388.5,556.4 L389.5,556.3 L390.5,556.2 L391.5,556.1 L392.5,555.9 L393.5,555.8 L394.5,555.7 L395.5,555.6 L396.5,555.5 L397.5,555.4 L398.5,555.3 L399.5,555.2 L400.5,555.1 L401.4,555.0 L402.4,554.9 L403.4,554.8 L404.4,554.7 L405.4,554.5 L406.4,554.4 L407.4,554.3 L408.4,554.2 L409.4,554.1 L410.4,554.0 L411.4,553.9 L412.4,553.8 L413.4,553.7 L414.4,553.6 L415.4,553.5 L416.4,553.3 L417.4,553.2 L418.3,553.1 L419.3,553.0 L420.3,552.9 L421.3,552.8 L422.3,552.7 L423.3,552.6 L424.3,552.5 L425.3,552.4 L426.3,552.2 L427.3,552.1 L428.3,552.0 L429.3,551.9 L430.3,551.8 L431.3,551.7 L432.3,551.6 L433.2,551.5 L434.2,551.4 L435.2,551.3 L436.2,551.1 L437.2,551.0 L438.2,550.9 L439.2,550.8 L440.2,550.7 L441.2,550.6 L442.2,550.5 L443.2,550.4 L444.2,550.3 L445.2,550.2 L446.2,550.1 L447.2,549.9 L448.1,549.8 L449.1,549.7 L450.1,549.6 L451.1,549.5 L452.1,549.4 L453.1,549.3 L454.1,549.2 L455.1,549.1 L456.1,549.0 L457.1,548.9 L458.1,548.7 L459.1,548.6 L460.1,548.5 L461.0,548.4 L462.0,548.3 L463.0,548.2 L464.0,548.1 L465.0,547.9 L466.0,547.8 L467.0,547.7 L468.0,547.6 L469.0,547.5 L470.0,547.3 L471.0,547.2 L472.0,547.1 L472.9,546.9 L473.9,546.8 L474.9,546.7 L475.9,546.5 L476.9,546.4 L477.9,546.3 L478.9,546.1 L479.9,546.0 L480.9,545.8 L481.9,545.7 L482.8,545.5 L483.8,545.4 L484.8,545.2 L485.8,545.1 L486.8,544.9 L487.8,544.8 L488.8,544.6 L489.8,544.4 L490.7,544.3 L491.7,544.1 L492.7,543.9 L493.7,543.8 L494.7,543.6 L495.7,543.4 L496.7,543.3 L497.7,543.1 L498.7,543.0 L499.6,542.8 L500.6,542.6 L501.6,542.5 L502.6,542.3 L503.6,542.2 L504.6,542.0 L505.6,541.9 L506.6,541.7 L507.5,541.6 L508.5,541.4 L509.5,541.3 L510.5,541.1 L511.5,541.0 L512.5,540.9 L513.5,540.7 L514.5,540.6 L515.5,540.5 L516.5,540.3 L517.4,540.2 L518.4,540.1 L519.4,540.0 L520.4,539.8 L521.4,539.7 L522.4,539.6 L523.4,539.5 L524.4,539.3 L525.4,539.2 L526.4,539.1 L527.4,539.0 L528.3,538.8 L529.3,538.7 L530.3,538.6 L531.3,538.5 L532.3,538.4 L533.3,538.2 L534.3,538.1 L535.3,538.0 L536.3,537.9 L537.3,537.7 L538.3,537.6 L539.2,537.5 L540.2,537.4 L541.2,537.2 L542.2,537.1 L543.2,537.0 L544.2,536.9 L545.2,536.7 L546.2,536.6 L547.2,536.5 L548.2,536.3 L549.1,536.2 L550.1,536.0 L551.1,535.9 L552.1,535.8 L553.1,535.6 L554.1,535.5 L555.1,535.3 L556.1,535.2 L557.0,535.0 L558.0,534.8 L559.0,534.7 L560.0,534.5 L561.0,534.4 L562.0,534.2 L563.0,534.0 L564.0,533.8 L564.9,533.7 L565.9,533.5 L566.9,533.3 L567.9,533.1 L568.9,532.9 L569.9,532.7 L570.8,532.5 L571.8,532.3 L572.8,532.1 L573.8,531.9 L574.8,531.8 L575.8,531.6 L576.7,531.4 L577.7,531.2 L578.7,531.0 L579.7,530.8 L580.7,530.6 L581.7,530.4 L582.6,530.2 L583.6,530.0 L584.6,529.8 L585.6,529.6 L586.6,529.4 L587.6,529.2 L588.6,529.0 L589.5,528.8 L590.5,528.6 L591.5,528.4 L592.5,528.3 L593.5,528.1 L594.5,527.9 L595.5,527.7 L596.4,527.6 L597.4,527.4 L598.4,527.2 L599.4,527.1 L600.4,526.9 L601.4,526.8 L602.4,526.6 L603.4,526.5 L604.4,526.4 L605.3,526.2 L606.3,526.1 L607.3,526.0 L608.3,525.9 L609.3,525.8 L610.3,525.7 L611.3,525.6 L612.3,525.5 L613.3,525.4 L614.3,525.4 L615.3,525.3 L616.3,525.2 L617.3,525.2 L618.3,525.2 L619.3,525.1 L620.3,525.1 L621.3,525.1 L622.3,525.1 L623.3,525.1 L624.3,525.1 L625.3,525.1 L626.3,525.1 L627.3,525.1 L628.3,525.2 L629.3,525.2 L630.3,525.2 L631.3,525.3 L632.3,525.4 L633.3,525.5 L634.3,525.5 L635.2,525.6 L636.2,525.7 L637.2,525.9 L638.2,526.0 L639.2,526.1 L640.2,526.3 L641.2,526.4 L642.2,526.6 L643.1,526.7 L644.1,526.9 L645.1,527.1 L646.1,527.3 L647.1,527.5 L648.0,527.7 L649.0,527.9 L650.0,528.2 L651.0,528.4 L651.9,528.6 L652.9,528.9 L653.9,529.1 L654.8,529.4 L655.8,529.6 L656.8,529.9 L657.7,530.2 L658.7,530.5 L659.7,530.7 L660.6,531.0 L661.6,531.3 L662.5,531.6 L663.5,531.9 L664.5,532.2 L665.4,532.5 L666.4,532.8 L667.3,533.1 L668.3,533.4 L669.3,533.6 L670.2,533.9 L671.2,534.2 L672.1,534.5 L673.1,534.8 L674.0,535.1 L675.0,535.4 L676.0,535.7 L676.9,536.0 L677.9,536.3 L678.8,536.6 L679.8,536.9 L680.8,537.2 L681.7,537.5 L682.7,537.8 L683.7,538.0 L684.6,538.3 L685.6,538.6 L686.5,538.9 L687.5,539.1 L688.5,539.4 L689.4,539.7 L690.4,540.0 L691.4,540.2 L692.3,540.5 L693.3,540.7 L694.3,541.0 L695.2,541.3 L696.2,541.5 L697.2,541.8 L698.1,542.0 L699.1,542.3 L700.1,542.5 L701.1,542.8 L702.0,543.0 L703.0,543.2 L704.0,543.5 L704.9,543.7 L705.9,543.9 L706.9,544.2 L707.9,544.4 L708.8,544.6 L709.8,544.8 L710.8,545.1 L711.8,545.3 L712.7,545.5 L713.7,545.7 L714.7,545.9 L715.7,546.1 L716.7,546.3 L717.6,546.5 L718.6,546.7 L719.6,546.9 L720.6,547.1 L721.5,547.3 L722.5,547.5 L723.5,547.6 L724.5,547.8 L725.5,548.0 L726.5,548.2 L727.4,548.3 L728.4,548.5 L729.4,548.7 L730.4,548.8 L731.4,549.0 L732.4,549.1 L733.4,549.3 L734.3,549.4 L735.3,549.6 L736.3,549.7 L737.3,549.8 L738.3,550.0 L739.3,550.1 L740.3,550.2 L741.3,550.3 L742.3,550.4 L743.2,550.6 L744.2,550.7 L745.2,550.8 L746.2,550.9 L747.2,551.0 L748.2,551.1 L749.2,551.2 L750.2,551.3 L751.2,551.4 L752.2,551.5 L753.2,551.5 L754.2,551.6 L755.2,551.7 L756.2,551.8 L757.2,551.9 L758.2,551.9 L759.2,552.0 L760.1,552.1 L761.1,552.1 L762.1,552.2 L763.1,552.2 L764.1,552.3 L765.1,552.4 L766.1,552.4 L767.1,552.5 L768.1,552.5 L769.1,552.6 L770.1,552.6 L771.1,552.7 L772.1,552.7 L773.1,552.7 L774.1,552.8 L775.1,552.8 L776.1,552.8 L777.1,552.9 L778.1,552.9 L779.1,552.9 L780.1,553.0 L781.1,553.0 L782.1,553.0 L783.1,553.0 L784.2,553.1 L785.2,553.1 L786.2,553.1 L787.2,553.1 L788.2,553.1 L789.2,553.1 L790.2,553.2 L791.2,553.2 L792.2,553.2 L793.2,553.2 L794.2,553.2 L795.2,553.2 L796.2,553.2 L797.2,553.2 L798.2,553.2 L799.2,553.2 L800.2,553.2 L801.2,553.3 L802.2,553.3 L803.2,553.3 L804.2,553.3 L805.2,553.3 L806.2,553.3 L807.2,553.3 L808.2,553.3 L809.2,553.3 L810.2,553.3 L811.2,553.3 L812.2,553.3 L813.2,553.3 L814.2,553.3 L815.2,553.3 L816.2,553.3 L817.2,553.3 L818.2,553.3 L819.2,553.3 L820.2,553.3 L821.2,553.3 L822.2,553.3 L823.2,553.3 L824.2,553.2 L825.2,553.2 L826.2,553.3 L827.2,553.3 L828.2,553.3 L829.2,553.3 L830.2,553.3 L831.2,553.3 L832.2,553.3 L833.2,553.3 L834.2,553.3 L835.2,553.3 L836.2,553.3 L837.2,553.3 L838.2,553.3 L839.2,553.3 L840.2,553.3 L841.2,553.3 L842.2,553.3 L843.2,553.4 L844.2,553.4 L845.2,553.4 L846.2,553.4 L846.3,553.4"/>
</g>
<!-- frame -->
<g fill="#000">
<rect x="61" y="0" width="2.5" height="581.6"/>
<rect x="846" y="0" width="2.6" height="581.6"/>
<rect x="61" y="0" width="787.6" height="2.4"/>
<rect x="61" y="579" width="787.6" height="2.6"/>
<!-- ticks -->
<rect x="302.4" y="568.8" width="2.4" height="11"/>
<rect x="544.1" y="568.8" width="2.4" height="11"/>
<rect x="785.7" y="568.8" width="2.4" height="11"/>
<rect x="181.9" y="574.3" width="2.4" height="5"/>
<rect x="423.6" y="574.3" width="2.4" height="5"/>
<rect x="665.2" y="574.3" width="2.4" height="5"/>
</g>
<!-- tick labels -->
<g text-anchor="middle">
<text x="62" y="623.5">200</text>
<text x="304" y="623.5">400</text>
<text x="545.5" y="623.5">600</text>
<text x="787" y="623.5">800</text>
</g>
<text x="274.5" y="659.2" textLength="302" lengthAdjust="spacingAndGlyphs">Temperature (<tspan font-weight="normal">°</tspan>C)</text>
<text transform="translate(28.8,476) rotate(-90)" letter-spacing="0.17">H<tspan class="b" dy="10.3">2</tspan><tspan dy="-10.3" dx="2.5"> consumption (a.u.)</tspan></text>
<text x="62" y="346" textLength="313.8" lengthAdjust="spacingAndGlyphs">Unsupported VPO</text>
<text x="62" y="471.5" textLength="276.4" lengthAdjust="spacingAndGlyphs">33%-VPO/MCF</text>
<text x="62" y="547.5" textLength="256.6" lengthAdjust="spacingAndGlyphs">5%-VPO/MCF</text>
<!-- peak labels -->
<text x="470.7" y="67.6">V<tspan class="s" dy="-15.1" dx="0.2">5<tspan class="p" dy="0.7" dx="0.3">+</tspan></tspan></text>
<text x="544.8" y="181.8">V<tspan class="s" dy="-15.1" dx="0.2">5<tspan class="p" dy="0.7" dx="0.3">+</tspan></tspan></text>
<text x="692.2" y="199.0">V<tspan class="s" dy="-15.1" dx="0.2">4<tspan class="p" dy="0.7" dx="0.3">+</tspan></tspan></text>
<text x="758.8" y="39.6">V<tspan class="s" dy="-15.1" dx="0.2">4<tspan class="p" dy="0.7" dx="0.3">+</tspan></tspan></text>
<text x="568.6" y="485.0">V<tspan class="s" dy="-15.1" dx="0">5<tspan class="p" dy="0.7" dx="0">+</tspan></tspan><tspan dy="14.4" dx="-0.8">/V</tspan><tspan class="s" dy="-15.1" dx="-0.6">4<tspan class="p" dy="0.7" dx="0">+</tspan></tspan></text>
<!-- arrows -->
<g stroke="#000" stroke-width="2.5" fill="#000">
<line x1="597.5" y1="375" x2="620.3" y2="447.3"/>
<line x1="617.9" y1="490.8" x2="622.5" y2="509"/>
</g>
<polygon points="592.8,360.4 593.6,377.6 603.6,374.4" fill="#000"/>
<polygon points="626,524.6 618.0,510.2 627.8,507" fill="#000"/>
</svg>
</body></html>
